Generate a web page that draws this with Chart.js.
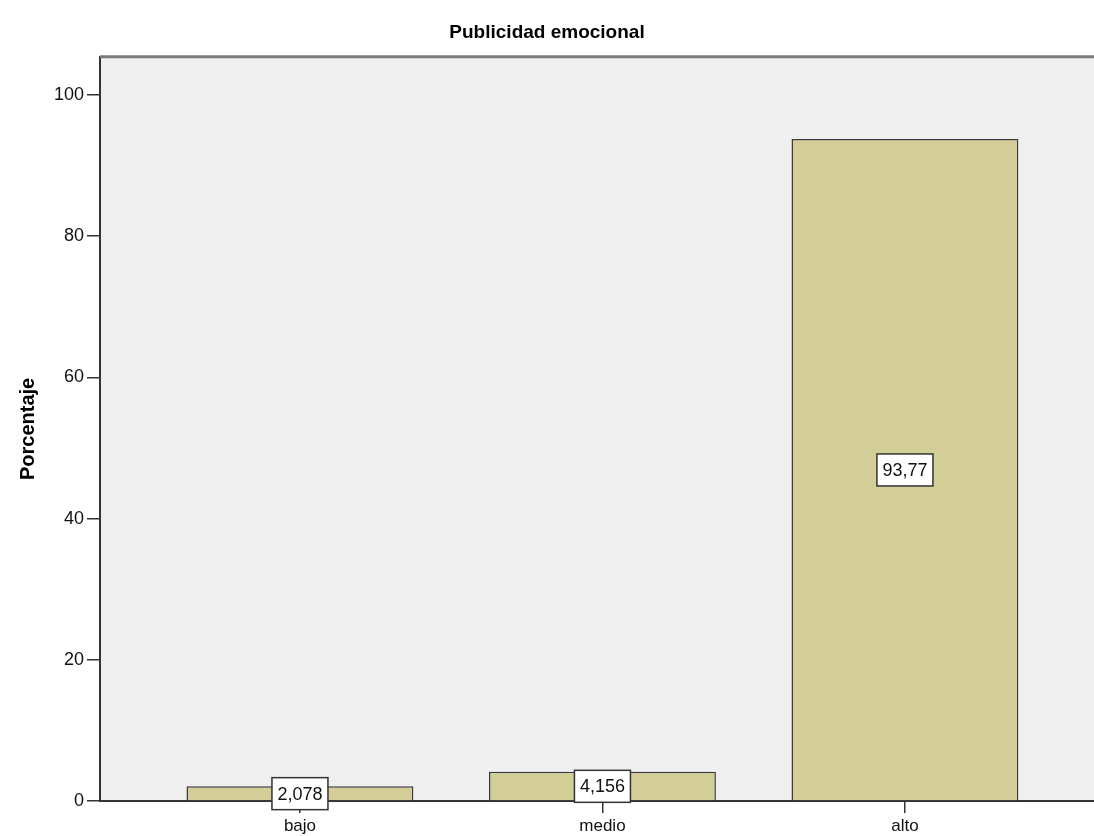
<!DOCTYPE html>
<html>
<head>
<meta charset="utf-8">
<script src="https://cdn.jsdelivr.net/npm/chart.js@4.4.1/dist/chart.umd.min.js"></script>
<style>
  html, body { margin: 0; padding: 0; background: #fff; }
  #wrap { width: 1094px; height: 836px; }
</style>
</head>
<body>
<div id="wrap"><canvas id="chart"></canvas></div>
<script>
// valores
const categories = ['bajo', 'medio', 'alto'];
const percentages = [2.078, 4.156, 93.77];
const valueLabels = ['2,078', '4,156', '93,77'];
const yTicks = [0, 20, 40, 60, 80, 100];

const font = "Arial, 'Liberation Sans', sans-serif";

// fondo gris del area y borde superior
const plotBackground = {
  id: 'plotBackground',
  beforeDraw(chart) {
    const { ctx, chartArea: a } = chart;
    ctx.save();
    ctx.fillStyle = '#efefef';
    ctx.fillRect(a.left, a.top, a.right - a.left, a.bottom - a.top);
    ctx.restore();
  },
  afterDraw(chart) {
    const { ctx, chartArea: a } = chart;
    ctx.save();
    ctx.strokeStyle = '#7a7a7a';
    ctx.lineWidth = 3;
    ctx.beginPath();
    ctx.moveTo(a.left, a.top);
    ctx.lineTo(a.right, a.top);
    ctx.stroke();
    ctx.restore();
  }
};

// etiquetas con caja blanca en medio de cada barra
const boxLabels = {
  id: 'boxLabels',
  afterDraw(chart) {
    const ctx = chart.ctx;
    const yScale = chart.scales.y;
    const meta = chart.getDatasetMeta(0);
    ctx.save();
    ctx.font = '18px ' + font;
    ctx.textAlign = 'center';
    ctx.textBaseline = 'middle';
    meta.data.forEach((bar, i) => {
      const y = yScale.getPixelForValue(percentages[i] / 2);
      const w = 56, h = 32;
      ctx.fillStyle = '#fff';
      ctx.fillRect(bar.x - w / 2, y - h / 2, w, h);
      ctx.strokeStyle = '#333';
      ctx.lineWidth = 1.5;
      ctx.strokeRect(bar.x - w / 2, y - h / 2, w, h);
      ctx.fillStyle = '#111';
      ctx.fillText(valueLabels[i], bar.x, y + 1);
    });
    ctx.restore();
  }
};

new Chart(document.getElementById('chart').getContext('2d'), {
  type: 'bar',
  data: {
    datasets: [{
      data: categories.map((c, i) => ({ x: i, y: percentages[i] })),
      backgroundColor: '#d3ce97',
      borderColor: '#3a3a3a',
      borderWidth: 1.5,
      categoryPercentage: 0.75,
      barPercentage: 1
    }]
  },
  options: {
    responsive: true,
    maintainAspectRatio: false,
    animation: false,
    events: [],
    layout: { padding: 0 },
    plugins: {
      legend: { display: false },
      tooltip: { enabled: false },
      title: {
        display: true,
        text: 'Publicidad emocional',
        color: '#000',
        font: { family: font, size: 19, weight: 'bold' },
        padding: { top: 21, bottom: 13 }
      }
    },
    scales: {
      x: {
        type: 'linear',
        offset: false,
        min: -0.661,
        max: 2.625,
        afterBuildTicks: (scale) => { scale.ticks = categories.map((c, i) => ({ value: i })); },
        afterFit: (scale) => { scale.height = 35; },
        ticks: {
          callback: (v) => categories[v],
          color: '#111',
          font: { family: font, size: 17 },
          padding: 3,
          maxRotation: 0
        },
        grid: { offset: false, drawOnChartArea: false, drawTicks: true, tickLength: 12, color: '#333', lineWidth: 1.5 },
        border: { display: true, color: '#333', width: 2 }
      },
      y: {
        min: 0,
        max: 105.4,
        afterBuildTicks: (scale) => { scale.ticks = yTicks.map(v => ({ value: v })); },
        afterFit: (scale) => { scale.width = 100; },
        ticks: {
          color: '#111',
          font: { family: font, size: 18 },
          padding: 3
        },
        grid: { drawOnChartArea: false, drawTicks: true, tickLength: 13, color: '#333', lineWidth: 1.5 },
        border: { display: true, color: '#333', width: 2 },
        title: {
          display: true,
          text: 'Porcentaje',
          color: '#000',
          font: { family: font, size: 20, weight: 'bold' },
          padding: { top: 16, bottom: 0 }
        }
      }
    }
  },
  plugins: [plotBackground, boxLabels]
});
</script>
</body>
</html>
